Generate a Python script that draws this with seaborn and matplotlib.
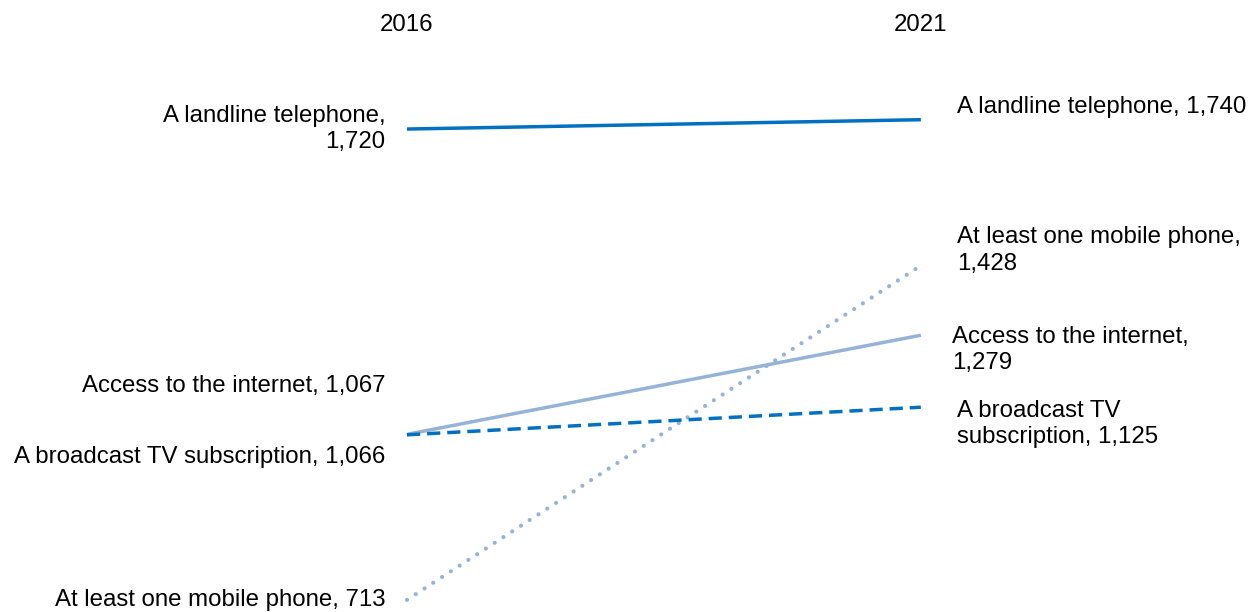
import matplotlib
matplotlib.use("Agg")
import matplotlib.pyplot as plt
import seaborn as sns
import pandas as pd

years = [2016, 2021]
series = ["A landline telephone", "At least one mobile phone", "Access to the internet", "A broadcast TV subscription"]
values_2016 = [1720, 713, 1067, 1066]
values_2021 = [1740, 1428, 1279, 1125]
left_labels = ["A landline telephone,\n1,720", "At least one mobile phone, 713",
               "Access to the internet, 1,067", "A broadcast TV subscription, 1,066"]
right_labels = ["A landline telephone, 1,740", "At least one mobile phone,\n1,428",
                "Access to the internet,\n1,279", "A broadcast TV\nsubscription, 1,125"]

colors = ["#0070C0", "#95B3D7", "#95B3D7", "#0070C0"]
dashes = ["solid", (0, (0.01, 2.5)), "solid", (0, (3.8, 2.0))]
caps = ["butt", "round", "butt", "butt"]
widths = [2.5, 3.0, 2.5, 2.5]
# label offsets (data units) to avoid overlap
left_dy = [0, 0, 103, -47]
right_dy = [28, 32, -32, -36]
right_dx = [0.35, 0.35, 0.30, 0.35]

sns.set_style("white")
plt.rcParams["font.family"] = ["Liberation Sans", "DejaVu Sans"]

fig = plt.figure(figsize=(12.59, 6.12), dpi=100)
ax = fig.add_axes([0, 0, 1, 1])

rows = []
for s, a, b in zip(series, values_2016, values_2021):
    rows.append({"series": s, "year": years[0], "value": a})
    rows.append({"series": s, "year": years[1], "value": b})
df = pd.DataFrame(rows)

for i, s in enumerate(series):
    sub = df[df["series"] == s]
    sns.lineplot(data=sub, x="year", y="value", ax=ax, color=colors[i],
                 linewidth=widths[i], linestyle=dashes[i], solid_capstyle="butt",
                 dash_capstyle=caps[i], legend=False)

fs = 17.3
for i in range(len(series)):
    ax.text(years[0] - 0.21, values_2016[i] + left_dy[i], left_labels[i],
            ha="right", va="center", fontsize=fs, linespacing=1.27, color="black")
    ax.text(years[1] + right_dx[i], values_2021[i] + right_dy[i], right_labels[i],
            ha="left", va="center", fontsize=fs, linespacing=1.27, color="black")

for y in years:
    ax.text(y, 1942, str(y), ha="center", va="center", fontsize=fs, color="black")

ax.set_xlim(2012.04, 2024.29)
ax.set_ylim(687, 1996)
ax.axis("off")
fig.savefig("out.png", dpi=100)
